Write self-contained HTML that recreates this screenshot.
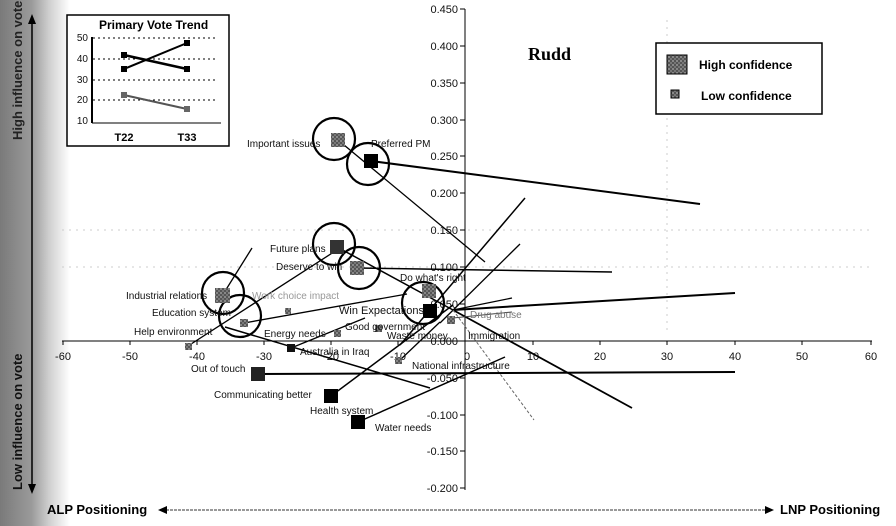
<!DOCTYPE html>
<html><head><meta charset="utf-8"><style>
html,body{margin:0;padding:0;background:#fff}
svg{display:block}
text{font-family:"Liberation Sans",sans-serif}
</style></head><body>
<svg width="896" height="526" viewBox="0 0 896 526" xmlns="http://www.w3.org/2000/svg">
<defs>
<linearGradient id="band" x1="0" x2="1" y1="0" y2="0">
<stop offset="0" stop-color="#7a7a7a"/><stop offset="0.45" stop-color="#9a9a9a"/><stop offset="0.7" stop-color="#cfcfcf"/><stop offset="1" stop-color="#fff"/>
</linearGradient>
<pattern id="hp" width="4" height="4" patternUnits="userSpaceOnUse"><rect width="4" height="4" fill="#555"/><rect width="2" height="2" fill="#888"/><rect x="2" y="2" width="2" height="2" fill="#777"/></pattern>
</defs>
<rect x="0" y="0" width="70" height="526" fill="url(#band)"/>
<rect x="0" y="0" width="70" height="526" fill="url(#band)" opacity="0.3"/>
<line x1="32" y1="22" x2="32" y2="486" stroke="#000" stroke-width="1.5"/>
<polygon points="32,14 28,24 36,24" fill="#000"/>
<polygon points="32,494 28,484 36,484" fill="#000"/>
<text transform="translate(22,140) rotate(-90)" font-size="13" font-weight="bold" fill="#222">High influence on vote</text>
<text transform="translate(22,490) rotate(-90)" font-size="13" font-weight="bold" fill="#111">Low influence on vote</text>
<g stroke="#ccc" stroke-width="1" stroke-dasharray="2,5">
<line x1="62" y1="230" x2="870" y2="230"/><line x1="62" y1="267" x2="870" y2="267"/>
<line x1="667" y1="20" x2="667" y2="330"/>
</g>
<line x1="465" y1="9" x2="465" y2="490" stroke="#000" stroke-width="1"/>
<line x1="62" y1="341" x2="872" y2="341" stroke="#000" stroke-width="1"/>
<g stroke="#000" stroke-width="1">
<line x1="460" y1="9" x2="465" y2="9"/><line x1="460" y1="46" x2="465" y2="46"/><line x1="460" y1="83" x2="465" y2="83"/><line x1="460" y1="120" x2="465" y2="120"/><line x1="460" y1="156" x2="465" y2="156"/><line x1="460" y1="193" x2="465" y2="193"/><line x1="460" y1="230" x2="465" y2="230"/><line x1="460" y1="267" x2="465" y2="267"/><line x1="460" y1="304" x2="465" y2="304"/><line x1="460" y1="378" x2="465" y2="378"/><line x1="460" y1="415" x2="465" y2="415"/><line x1="460" y1="451" x2="465" y2="451"/><line x1="460" y1="488" x2="465" y2="488"/>
<line x1="63" y1="341" x2="63" y2="345"/><line x1="130" y1="341" x2="130" y2="345"/><line x1="197" y1="341" x2="197" y2="345"/><line x1="264" y1="341" x2="264" y2="345"/><line x1="331" y1="341" x2="331" y2="345"/><line x1="398" y1="341" x2="398" y2="345"/><line x1="533" y1="341" x2="533" y2="345"/><line x1="600" y1="341" x2="600" y2="345"/><line x1="667" y1="341" x2="667" y2="345"/><line x1="735" y1="341" x2="735" y2="345"/><line x1="802" y1="341" x2="802" y2="345"/><line x1="871" y1="341" x2="871" y2="345"/>
</g>
<g font-size="11" fill="#111" text-anchor="end">
<text x="458" y="13">0.450</text><text x="458" y="50">0.400</text><text x="458" y="87">0.350</text><text x="458" y="124">0.300</text><text x="458" y="160">0.250</text><text x="458" y="197">0.200</text><text x="458" y="234">0.150</text><text x="458" y="271">0.100</text><text x="458" y="308">0.050</text><text x="458" y="345">0.000</text><text x="458" y="382">-0.050</text><text x="458" y="419">-0.100</text><text x="458" y="455">-0.150</text><text x="458" y="492">-0.200</text>
</g>
<g font-size="11" fill="#111" text-anchor="middle">
<text x="63" y="360">-60</text><text x="130" y="360">-50</text><text x="197" y="360">-40</text><text x="264" y="360">-30</text><text x="331" y="360">-20</text><text x="398" y="360">-10</text><text x="467" y="360">0</text><text x="533" y="360">10</text><text x="600" y="360">20</text><text x="667" y="360">30</text><text x="735" y="360">40</text><text x="802" y="360">50</text><text x="871" y="360">60</text>
</g>
<line x1="166" y1="510" x2="766" y2="510" stroke="#333" stroke-width="1" stroke-dasharray="3,1"/>
<polygon points="158,510 167,506 167,514" fill="#000"/>
<polygon points="774,510 765,506 765,514" fill="#000"/>
<text x="47" y="514" font-size="13" font-weight="bold">ALP Positioning</text>
<text x="780" y="514" font-size="13" font-weight="bold">LNP Positioning</text>
<text x="528" y="60" style="font-family:'Liberation Serif',serif" font-size="18" font-weight="bold">Rudd</text>
<rect x="656" y="43" width="166" height="71" fill="#fff" stroke="#000" stroke-width="1.5"/>
<rect x="667" y="55" width="20" height="19" fill="url(#hp)" stroke="#000"/>
<text x="699" y="69" font-size="12" font-weight="bold">High confidence</text>
<rect x="671" y="90" width="8" height="8" fill="url(#hp)" stroke="#000"/>
<text x="701" y="100" font-size="12" font-weight="bold">Low confidence</text>
<rect x="67" y="15" width="162" height="131" fill="#fff" stroke="#000" stroke-width="1.5"/>
<text x="99" y="29" font-size="12" font-weight="bold">Primary Vote Trend</text>
<g stroke="#000" stroke-width="1" stroke-dasharray="2,3">
<line x1="93" y1="38" x2="218" y2="38"/><line x1="93" y1="59" x2="218" y2="59"/><line x1="93" y1="80" x2="218" y2="80"/><line x1="93" y1="100" x2="218" y2="100"/>
</g>
<line x1="92" y1="37" x2="92" y2="123" stroke="#000" stroke-width="2"/>
<line x1="92" y1="123" x2="221" y2="123" stroke="#000" stroke-width="1"/>
<g font-size="10" fill="#111" text-anchor="end"><text x="88" y="41">50</text><text x="88" y="62">40</text><text x="88" y="83">30</text><text x="88" y="103">20</text><text x="88" y="124">10</text></g>
<text x="124" y="141" font-size="11" font-weight="bold" text-anchor="middle">T22</text>
<text x="187" y="141" font-size="11" font-weight="bold" text-anchor="middle">T33</text>
<line x1="124" y1="69" x2="187" y2="43" stroke="#000" stroke-width="2"/>
<line x1="124" y1="55" x2="187" y2="69" stroke="#000" stroke-width="2.5"/>
<line x1="124" y1="95" x2="187" y2="109" stroke="#555" stroke-width="2"/>
<rect x="121" y="66" width="6" height="6"/><rect x="184" y="40" width="6" height="6"/><rect x="121" y="52" width="6" height="6"/><rect x="184" y="66" width="6" height="6"/><rect x="121" y="92" width="6" height="6" fill="#666"/><rect x="184" y="106" width="6" height="6" fill="#666"/>
<g stroke="#000" fill="none">
<line x1="371" y1="161" x2="700" y2="204" stroke-width="2"/>
<line x1="338" y1="140" x2="485" y2="262" stroke-width="1.3"/>
<line x1="357" y1="268" x2="612" y2="272" stroke-width="1.5"/>
<line x1="337" y1="247" x2="453" y2="310" stroke-width="1.5"/>
<line x1="453" y1="310" x2="735" y2="293" stroke-width="2"/>
<line x1="400" y1="345" x2="525" y2="198" stroke-width="1.5"/>
<line x1="440" y1="323" x2="520" y2="244" stroke-width="1.3"/>
<line x1="453" y1="310" x2="512" y2="298" stroke-width="1.3"/>
<line x1="453" y1="310" x2="632" y2="408" stroke-width="1.8"/>
<line x1="453" y1="310" x2="534" y2="420" stroke-width="1" stroke="#666" stroke-dasharray="3,2"/>
<line x1="258" y1="374" x2="735" y2="372" stroke-width="2"/>
<line x1="331" y1="396" x2="453" y2="305" stroke-width="1.5"/>
<line x1="358" y1="422" x2="505" y2="357" stroke-width="1.5"/>
<line x1="225" y1="327" x2="430" y2="388" stroke-width="1.5"/>
<line x1="188" y1="346" x2="340" y2="248" stroke-width="1.3"/>
<line x1="222" y1="296" x2="252" y2="248" stroke-width="1.3"/>
<line x1="244" y1="323" x2="407" y2="294" stroke-width="1.3"/>
<line x1="291" y1="348" x2="365" y2="318" stroke-width="1.3"/>
<line x1="399" y1="361" x2="440" y2="322" stroke-width="1.3"/>
<line x1="453" y1="318" x2="512" y2="312" stroke-width="1" stroke="#444"/>
</g>
<g stroke="#000" stroke-width="2.2" fill="none">
<circle cx="334" cy="139" r="21"/><circle cx="368" cy="164" r="21"/>
<circle cx="334" cy="244" r="21"/><circle cx="359" cy="268" r="21"/>
<circle cx="223" cy="293" r="21"/><circle cx="240" cy="316" r="21"/>
<circle cx="423" cy="303" r="21"/>
</g>
<rect x="331" y="133" width="14" height="14" fill="url(#hp)"/>
<rect x="364" y="154" width="14" height="14" fill="#000"/>
<rect x="330" y="240" width="14" height="14" fill="#333"/>
<rect x="350" y="261" width="14" height="14" fill="url(#hp)"/>
<rect x="215" y="288" width="15" height="15" fill="url(#hp)"/>
<rect x="422" y="284" width="14" height="14" fill="url(#hp)"/>
<rect x="423" y="304" width="14" height="14" fill="#000"/>
<rect x="251" y="367" width="14" height="14" fill="#222"/>
<rect x="324" y="389" width="14" height="14" fill="#000"/>
<rect x="351" y="415" width="14" height="14" fill="#000"/>
<g fill="url(#hp)">
<rect x="240" y="319" width="8" height="8"/><rect x="185" y="343" width="7" height="7"/><rect x="287" y="344" width="8" height="8" fill="#111"/><rect x="334" y="330" width="7" height="7"/><rect x="375" y="325" width="7" height="7"/><rect x="395" y="357" width="7" height="7"/><rect x="447" y="316" width="8" height="8"/><rect x="285" y="308" width="6" height="6"/>
</g>
<g font-size="10" fill="#111">
<text x="247" y="147">Important issues</text>
<text x="371" y="147">Preferred PM</text>
<text x="270" y="252">Future plans</text>
<text x="276" y="270">Deserve to win</text>
<text x="400" y="281">Do what's right</text>
<text x="126" y="299">Industrial relations</text>
<text x="152" y="316">Education system</text>
<text x="134" y="335">Help environment</text>
<text x="339" y="314" font-size="11">Win Expectations</text>
<text x="264" y="337">Energy needs</text>
<text x="345" y="330">Good government</text>
<text x="387" y="339">Waste money</text>
<text x="468" y="339">Immigration</text>
<text x="470" y="318" fill="#777">Drug abuse</text>
<text x="300" y="355">Australia in Iraq</text>
<text x="191" y="372">Out of touch</text>
<text x="412" y="369">National infrastructure</text>
<text x="214" y="398">Communicating better</text>
<text x="310" y="414">Health system</text>
<text x="375" y="431">Water needs</text>
<text x="252" y="299" fill="#999">Work choice impact</text>
</g>
</svg>
</body></html>
